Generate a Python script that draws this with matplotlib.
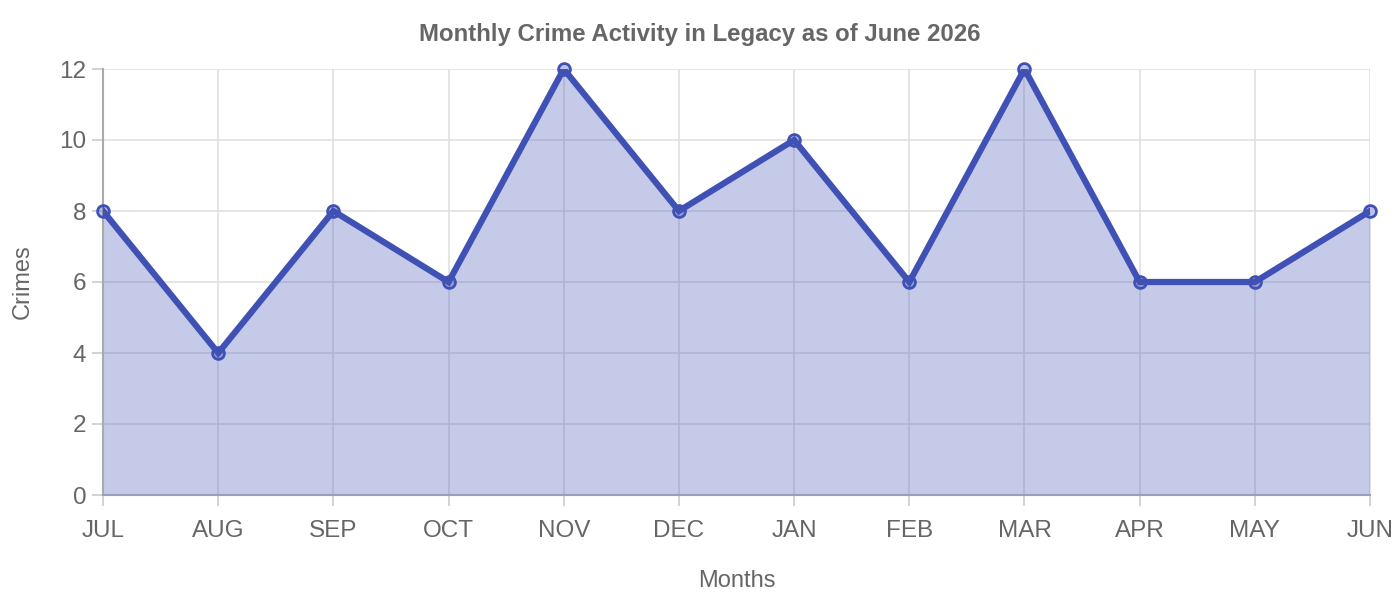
import matplotlib
matplotlib.use("Agg")
import matplotlib.pyplot as plt

months = ["JUL", "AUG", "SEP", "OCT", "NOV", "DEC", "JAN", "FEB", "MAR", "APR", "MAY", "JUN"]
crimes = [8, 4, 8, 6, 12, 8, 10, 6, 12, 6, 6, 8]
yticks = [0, 2, 4, 6, 8, 10, 12]

plt.rcParams['font.family'] = ['Liberation Sans', 'DejaVu Sans']
text_color = "#666666"
line_color = "#3f51b5"

fig = plt.figure(figsize=(14, 6), dpi=100)
ax = fig.add_axes([0.0736, 0.175, 0.905, 0.71])

x = list(range(len(months)))
ax.fill_between(x, crimes, 0, color=line_color, alpha=0.3, linewidth=0, zorder=2)
ax.plot(x, crimes, color=line_color, linewidth=4.5, zorder=3, solid_joinstyle='miter')
ax.plot(x, crimes, linestyle='none', marker='o', markersize=8.5,
        markerfacecolor=(63/255, 81/255, 181/255, 0.35), markeredgecolor=line_color,
        markeredgewidth=2, zorder=4, clip_on=False)

ax.set_xlim(0, len(months) - 1)
ax.set_ylim(0, 12)
ax.set_xticks(x)
ax.set_xticklabels(months)
ax.set_yticks(yticks)

ax.grid(True, color="#e0e0e0", linewidth=1.2, zorder=1)
ax.tick_params(axis='both', colors="#cccccc", labelcolor=text_color, labelsize=17.5, length=8, width=1.2)
ax.tick_params(axis='x', pad=10)
ax.tick_params(axis='y', pad=4)

for side in ['top', 'right']:
    ax.spines[side].set_visible(False)
ax.spines['left'].set_color("#aaaaaa")
ax.spines['left'].set_linewidth(1.5)
ax.spines['bottom'].set_color("#9a9fc0")
ax.spines['bottom'].set_linewidth(1.5)

ax.set_xlabel("Months", fontsize=17, color=text_color, labelpad=20)
ax.set_ylabel("Crimes", fontsize=17, color=text_color, labelpad=18)
fig.text(0.5, 0.942, "Monthly Crime Activity in Legacy as of June 2026",
         ha='center', va='center', fontsize=17.3, fontweight='bold', color=text_color)

fig.savefig("out.png", dpi=100)
